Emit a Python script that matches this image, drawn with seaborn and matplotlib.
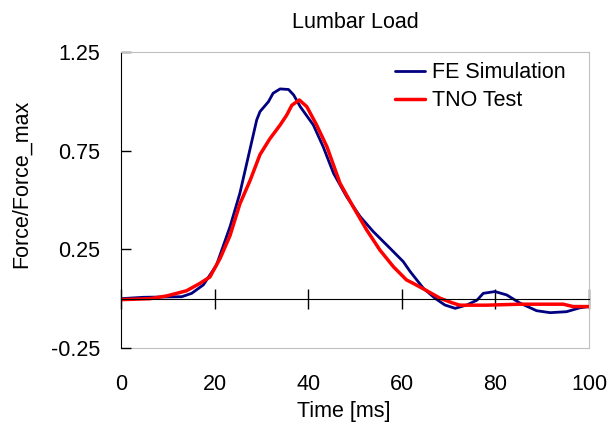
import matplotlib
matplotlib.use('Agg')
import matplotlib.pyplot as plt
import seaborn as sns
import pandas as pd

# Lumbar load: FE simulation vs. TNO test
fe_time = [0, 4.8, 13.0, 15.1, 17.6, 20.4, 23.3, 25.4, 27.2, 29.0, 29.7, 31.5, 32.5, 34.0,
           35.8, 36.9, 38.3, 41.1, 43.2, 45.4, 48.2, 51.1, 53.9, 57.5, 60.3, 61.8, 64.6,
           67.1, 69.2, 71.4, 73.9, 76.1, 77.4, 79.9, 82.4, 85.3, 88.8, 91.7, 95.2, 98.1, 100]
fe_force = [0.0, 0.007, 0.01, 0.027, 0.07, 0.17, 0.365, 0.534, 0.72, 0.906, 0.948, 0.998,
            1.041, 1.063, 1.06, 1.032, 0.973, 0.88, 0.77, 0.636, 0.517, 0.416, 0.34, 0.255,
            0.188, 0.137, 0.053, 0.002, -0.032, -0.049, -0.032, -0.007, 0.027, 0.036, 0.019,
            -0.023, -0.061, -0.071, -0.066, -0.046, -0.04]

tno_time = [0, 6.2, 9.8, 14.0, 16.9, 19.0, 21.2, 23.3, 25.4, 27.6, 29.7, 31.8, 34.0, 35.4,
            36.5, 38.1, 39.7, 41.8, 44.0, 46.8, 49.6, 52.5, 55.3, 58.2, 61.0, 62.4, 64.6,
            68.2, 71.0, 72.4, 78.0, 85.3, 94.5, 96.6, 100]
tno_force = [-0.005, 0.0, 0.014, 0.04, 0.078, 0.11, 0.205, 0.32, 0.48, 0.60, 0.73, 0.81,
             0.88, 0.93, 0.98, 1.007, 0.973, 0.88, 0.77, 0.585, 0.466, 0.348, 0.247, 0.162,
             0.095, 0.078, 0.05, 0.002, -0.023, -0.033, -0.033, -0.028, -0.028, -0.04, -0.04]

x_ticks = [0, 20, 40, 60, 80, 100]
y_ticks = [-0.25, 0.25, 0.75, 1.25]

sns.set_style('white')
plt.rcParams['font.family'] = ['Liberation Sans', 'DejaVu Sans']
plt.rcParams['text.color'] = 'black'
plt.rcParams['axes.labelcolor'] = 'black'
plt.rcParams['xtick.color'] = 'black'
plt.rcParams['ytick.color'] = 'black'
fs = 15.5

fe = pd.DataFrame({'t': fe_time, 'f': fe_force})
tno = pd.DataFrame({'t': tno_time, 'f': tno_force})

fig = plt.figure(figsize=[6.09, 4.26], dpi=100)
ax = fig.add_axes([121 / 609, 1 - 348 / 426, 468 / 609, 296 / 426])

sns.lineplot(data=fe, x='t', y='f', ax=ax, color='#000080', lw=2, label='FE Simulation')
sns.lineplot(data=tno, x='t', y='f', ax=ax, color='#ff0000', lw=2.5, label='TNO Test')

ax.set_xlim(0, 100)
ax.set_ylim(-0.25, 1.25)
ax.set_yticks(y_ticks)
ax.set_yticklabels(['-0.25', '0.25', '0.75', '1.25'])
ax.tick_params(axis='y', direction='in', length=7, width=1, color='black',
               labelsize=fs, labelcolor='black', pad=15, left=True)

# x axis line crosses at zero, labels stay at the bottom
ax.spines['bottom'].set_position(('data', 0))
ax.spines['bottom'].set_color('black')
ax.spines['left'].set_color('black')
ax.spines['top'].set_color('#c0c0c0')
ax.spines['right'].set_color('#c0c0c0')
ax.set_xticks(x_ticks)
ax.tick_params(axis='x', direction='inout', length=14, width=1, color='black',
               labelbottom=False, bottom=True)
ax.set_xlabel('')

sec = ax.secondary_xaxis('bottom')
sec.set_xticks(x_ticks)
sec.tick_params(length=0, labelsize=fs, labelcolor='black', pad=19)
sec.spines['bottom'].set_color('#c0c0c0')
sec.set_xlabel('Time [ms]', fontsize=fs, color='black')
sec.xaxis.set_label_coords(0.477, -0.18, transform=ax.transAxes)
sec.xaxis.label.set_va('top')

ax.set_ylabel('Force/Force_max', fontsize=fs, color='black')
ax.yaxis.set_label_coords(-0.19, 0.554)
ax.set_title('Lumbar Load', fontsize=fs, pad=17, color='black')

ax.legend(loc='upper left', bbox_to_anchor=(0.585, 0.966), frameon=False, fontsize=fs,
          handlelength=1.4, handletextpad=0.32, labelspacing=0.33,
          borderpad=0, borderaxespad=0)

plt.savefig('out.png', dpi=100)
plt.close()
